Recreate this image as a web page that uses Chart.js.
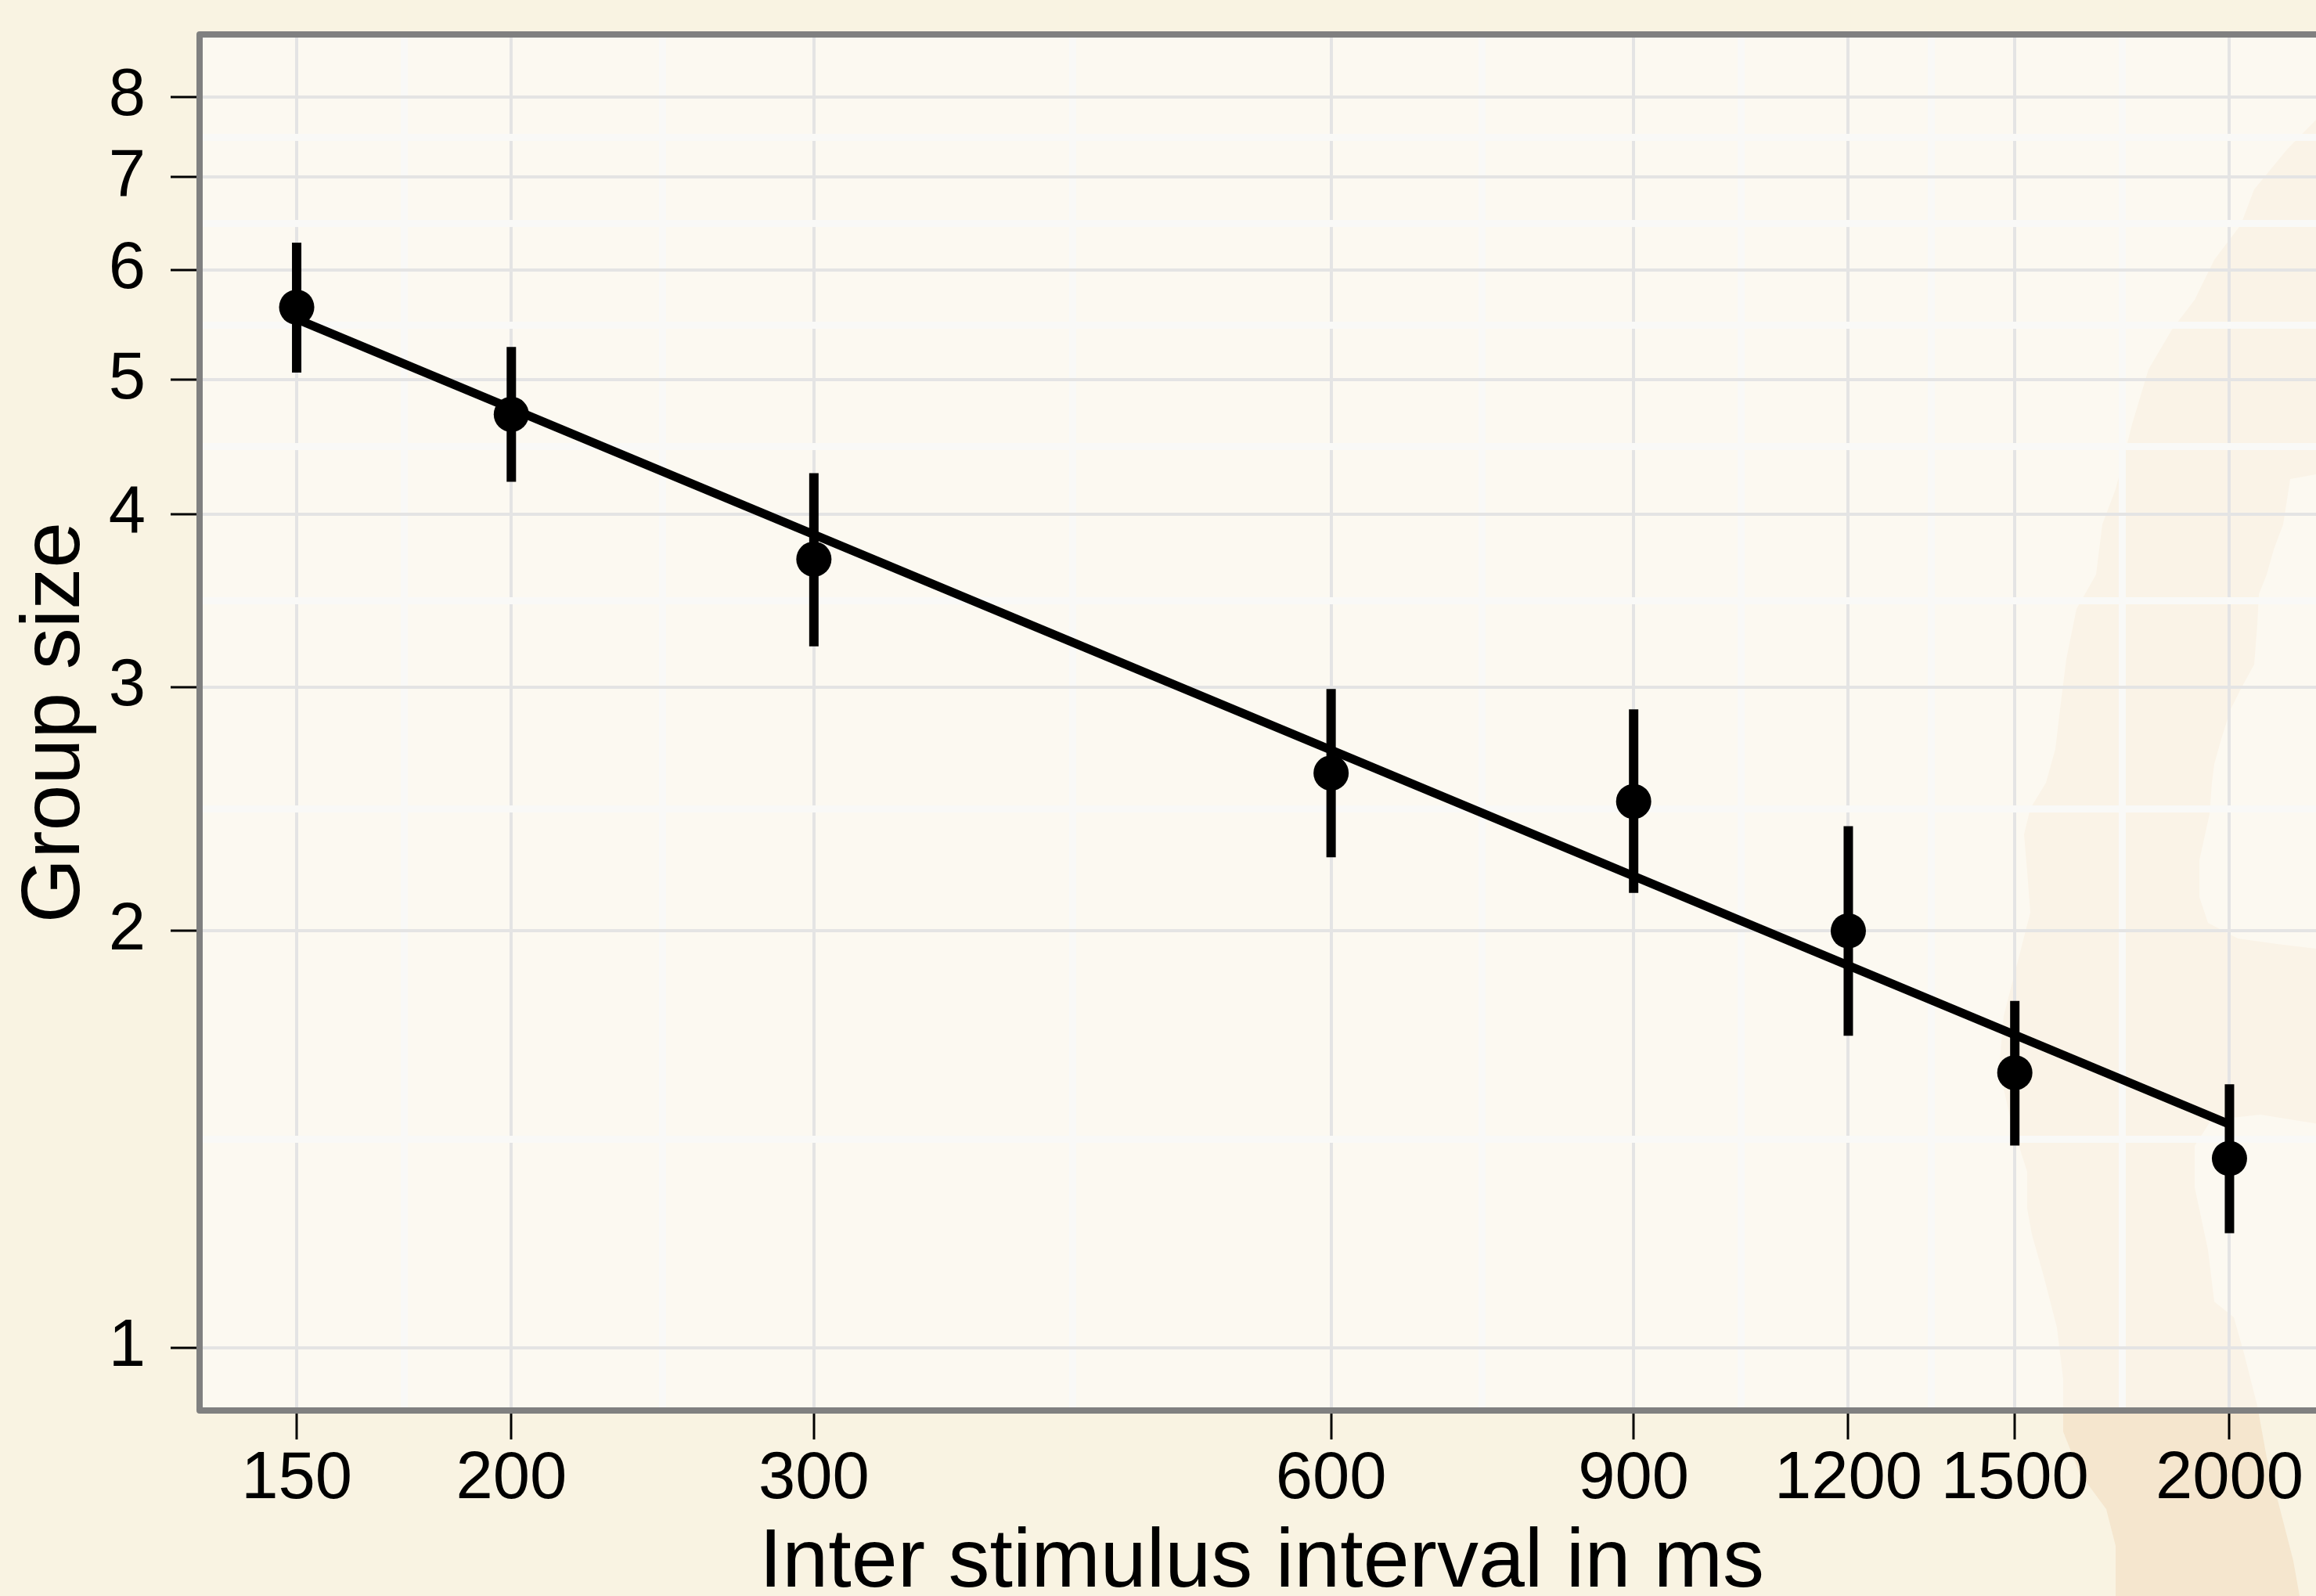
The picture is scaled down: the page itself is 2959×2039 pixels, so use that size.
<!DOCTYPE html>
<html>
<head>
<meta charset="utf-8">
<script src="https://cdn.jsdelivr.net/npm/chart.js@4.4.1/dist/chart.umd.min.js"></script>
<style>
html,body{margin:0;padding:0;overflow:hidden;background:#F9F3E2;}
canvas{display:block;}
</style>
</head>
<body>
<canvas id="c" width="3000" height="2039" style="width:3000px;height:2039px"></canvas>
<script>
// ---- data ----
const intervals = [150, 200, 300, 600, 900, 1200, 1500, 2000];
const groupSize = [5.64, 4.72, 3.71, 2.60, 2.48, 2.00, 1.58, 1.37];
const errUpper  = [6.28, 5.28, 4.28, 2.99, 2.89, 2.38, 1.78, 1.55];
const errLower  = [5.06, 4.22, 3.21, 2.26, 2.13, 1.68, 1.40, 1.21];
const fitX = [150, 2000];
const fitY = [5.53, 1.45];
const xTickValues = [150, 200, 300, 600, 900, 1200, 1500, 2000];
const yTickValues = [1, 2, 3, 4, 5, 6, 7, 8];
const xTitle = 'Inter stimulus interval in ms';
const yTitle = 'Group size';

// minor grid lines sit half way (in log space) between major ticks
function withMinor(major) {
  const out = [];
  major.forEach((v, i) => {
    out.push(v);
    if (i < major.length - 1) out.push(Math.sqrt(v * major[i + 1]));
  });
  return out;
}
const xAll = withMinor(xTickValues);
const yAll = withMinor(yTickValues);
const isMajor = (arr, v) => arr.some(m => Math.abs(m - v) < 1e-9);

// background decoration shape (figure background pattern), page pixels
const blob = [
 [2975,153],[2959,153],[2922,191],[2880,242],[2863,287],[2829,332],[2804,383],[2775,421],[2745,472],
 [2724,542],[2716,574],[2703,625],[2686,670],[2678,734],[2653,778],[2640,842],[2632,906],[2626,957],
 [2614,1000],[2594,1033],[2586,1066],[2590,1113],[2594,1166],[2577,1232],[2560,1298],[2554,1365],
 [2569,1431],[2590,1497],[2590,1544],[2596,1577],[2611,1630],[2628,1696],[2636,1762],[2636,1829],
 [2657,1882],[2691,1928],[2703,1975],[2703,2045],[2942,2045],[2938,2039],[2930,1994],[2913,1928],
 [2896,1862],[2884,1796],[2867,1729],[2854,1683],[2829,1663],[2821,1597],[2804,1517],[2804,1464],
 [2825,1431],[2888,1424],[2975,1438],[2975,1212],[2959,1212],[2909,1206],[2859,1199],[2821,1179],
 [2810,1146],[2810,1099],[2823,1040],[2826,1000],[2829,976],[2838,944],[2850,906],[2863,880],
 [2880,849],[2884,798],[2886,759],[2896,734],[2905,702],[2917,670],[2922,638],[2926,612],[2959,606],[2975,606]
];

const FONT = "'Liberation Sans', Arial, Helvetica, sans-serif";
Chart.defaults.font.family = FONT;
Chart.defaults.color = '#000';

const decor = {
  id: 'decor',
  beforeDraw(chart) {
    const {ctx, chartArea: a, width, height} = chart;
    ctx.save();
    ctx.fillStyle = '#F9F3E2';
    ctx.fillRect(0, 0, width, height);
    ctx.beginPath();
    blob.forEach(([x, y], i) => i ? ctx.lineTo(x, y) : ctx.moveTo(x, y));
    ctx.closePath();
    ctx.fillStyle = '#F5E6CE';
    ctx.fill();
    ctx.fillStyle = 'rgba(255,255,255,0.5)';
    ctx.fillRect(a.left, a.top, a.right - a.left, a.bottom - a.top);
    ctx.restore();
  },
  afterDatasetsDraw(chart) {
    const {ctx, chartArea: a} = chart;
    ctx.save();
    ctx.strokeStyle = '#808080';
    ctx.lineWidth = 8;
    ctx.lineJoin = 'round';
    ctx.strokeRect(a.left, a.top, a.right - a.left, a.bottom - a.top);
    ctx.restore();
  }
};

const errorBarSets = intervals.map((x, i) => ({
  data: [{x: x, y: errLower[i]}, {x: x, y: errUpper[i]}],
  showLine: true,
  borderColor: '#000',
  borderWidth: 12,
  borderCapStyle: 'butt',
  pointRadius: 0,
  order: 3
}));

const fitSet = {
  data: fitX.map((x, i) => ({x: x, y: fitY[i]})),
  showLine: true,
  borderColor: '#000',
  borderWidth: 11,
  borderCapStyle: 'butt',
  pointRadius: 0,
  order: 2
};

const pointSet = {
  data: intervals.map((x, i) => ({x: x, y: groupSize[i]})),
  showLine: false,
  pointRadius: 22.5,
  pointBorderWidth: 0,
  pointBackgroundColor: '#000',
  pointBorderColor: '#000',
  order: 1
};

function gridOpts(majors) {
  return {
    color: c => isMajor(majors, c.tick.value) ? '#E4E4E4' : '#F9F9F7',
    lineWidth: c => isMajor(majors, c.tick.value) ? 4 : 9,
    tickColor: c => isMajor(majors, c.tick.value) ? '#000' : 'rgba(0,0,0,0)',
    tickWidth: 3,
    tickLength: 37,
    drawTicks: true,
    drawOnChartArea: true
  };
}

new Chart(document.getElementById('c'), {
  type: 'scatter',
  data: { datasets: [...errorBarSets, fitSet, pointSet] },
  plugins: [decor],
  options: {
    responsive: false,
    animation: false,
    devicePixelRatio: 1,
    layout: { padding: { left: 0, top: 44, right: 31, bottom: 0 } },
    plugins: { legend: { display: false }, tooltip: { enabled: false } },
    scales: {
      x: {
        type: 'logarithmic',
        position: 'bottom',
        bounds: 'data',
        min: 131.7,
        max: 2269.6,
        afterBuildTicks: s => { s.ticks = xAll.map(v => ({value: v})); },
        afterFit: s => { s.height = 237; s.paddingLeft = 0; s.paddingRight = 0; },
        border: { display: false },
        grid: gridOpts(xTickValues),
        ticks: {
          autoSkip: false, maxRotation: 0, minRotation: 0, padding: 1,
          color: '#000',
          font: { family: FONT, size: 85, lineHeight: 1.2 },
          callback: v => isMajor(xTickValues, v) ? String(v) : ''
        },
        title: {
          display: true, text: xTitle, color: '#000', padding: 0,
          font: { family: FONT, size: 106, lineHeight: 0.774 }
        }
      },
      y: {
        type: 'logarithmic',
        position: 'left',
        bounds: 'data',
        min: 0.9011,
        max: 8.876,
        afterBuildTicks: s => { s.ticks = yAll.map(v => ({value: v})); },
        afterFit: s => { s.width = 255; s.paddingTop = 0; s.paddingBottom = 0; },
        border: { display: false },
        grid: gridOpts(yTickValues),
        ticks: {
          autoSkip: false, padding: 32,
          color: '#000',
          font: { family: FONT, size: 85, lineHeight: 1.2 },
          callback: v => isMajor(yTickValues, v) ? String(v) : ''
        },
        title: {
          display: true, text: yTitle, color: '#000',
          padding: { top: 8, bottom: 0 },
          font: { family: FONT, size: 106, lineHeight: 1.2 }
        }
      }
    }
  }
});
</script>
</body>
</html>
